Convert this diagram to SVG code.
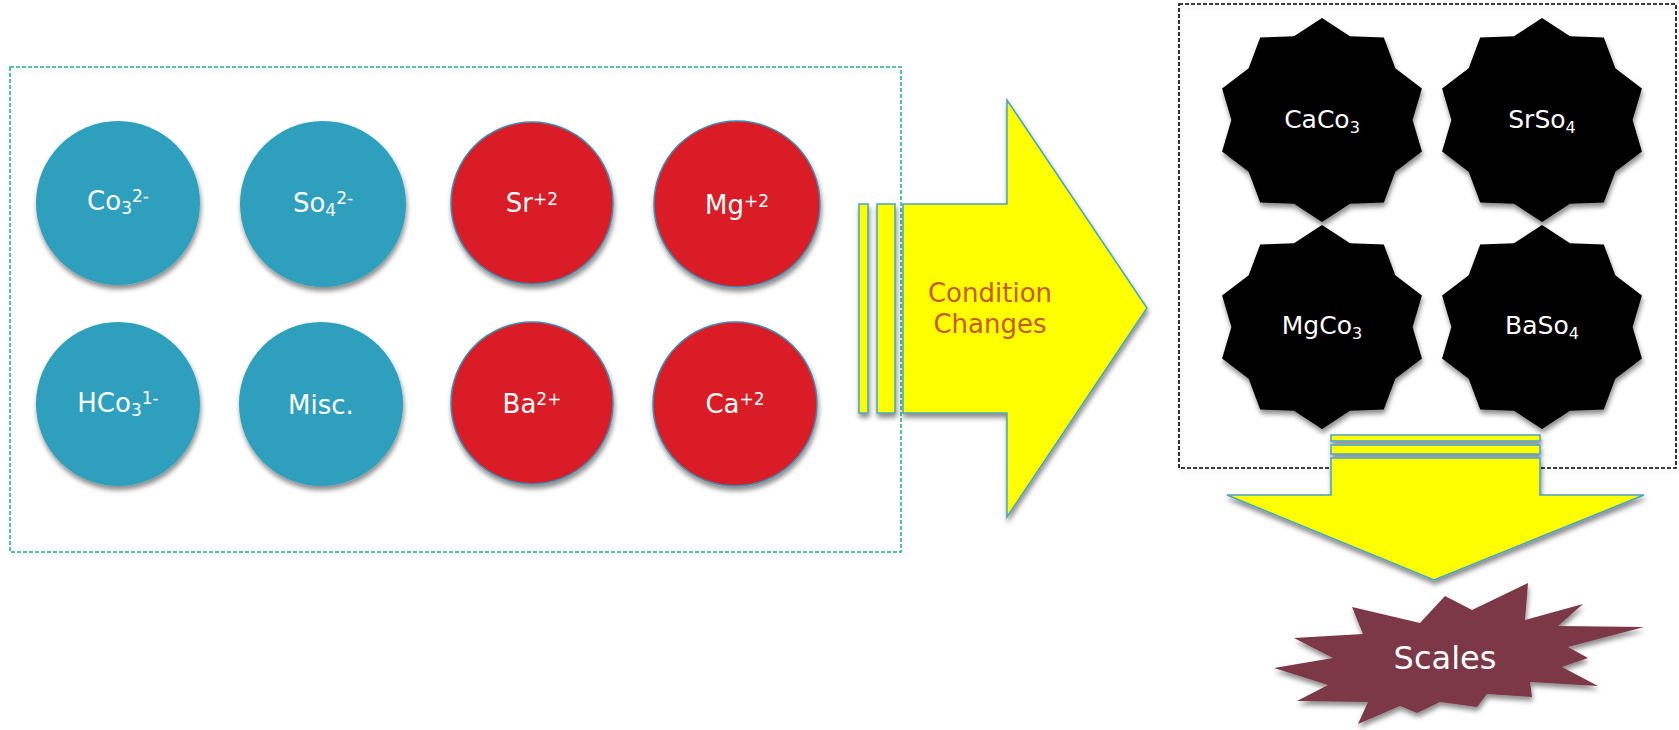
<svg xmlns="http://www.w3.org/2000/svg" xmlns:xlink="http://www.w3.org/1999/xlink" width="1679" height="730" viewBox="0 0 1679 730">
<style>
.t{font-family:"DejaVu Sans","Liberation Sans",sans-serif;fill:#ffffff;text-anchor:middle;font-size:26px}
.s{font-size:17px}
.st{font-size:25px}
.ss{font-size:16px}
.blue{fill:#2DA0BD}
.red{fill:#D91F27;stroke:#3E8DB0;stroke-width:1.5}
.yel{fill:#FFFF00;stroke:#4AA3C2;stroke-width:1.5}
.star{fill:#000000}
</style>
<defs>
<filter id="sh" x="-20%" y="-20%" width="140%" height="150%">
<feDropShadow dx="1" dy="4" stdDeviation="2.5" flood-color="#000" flood-opacity="0.45"/>
</filter>
<filter id="bsh" x="-5%" y="-5%" width="110%" height="110%">
<feDropShadow dx="1" dy="3" stdDeviation="2" flood-color="#000" flood-opacity="0.15"/>
</filter>
<polygon id="star10" points="0,-102 28,-83.7 61.8,-82.5 73.3,-51.7 99.9,-31.5 90.6,0 99.9,31.5 73.3,51.7 61.8,82.5 28,83.7 0,102 -28,83.7 -61.8,82.5 -73.3,51.7 -99.9,31.5 -90.6,0 -99.9,-31.5 -73.3,-51.7 -61.8,-82.5 -28,-83.7"/>
</defs>
<rect width="1679" height="730" fill="#ffffff"/>

<g id="ions-box" filter="url(#bsh)">
<rect x="10" y="67" width="891" height="485" fill="none" stroke="#22B07D" stroke-width="1.5" stroke-dasharray="4,2"/>
</g>
<g id="scale-box" filter="url(#bsh)">
<rect x="1179" y="4" width="497" height="464" fill="none" stroke="#000" stroke-width="1.6" stroke-dasharray="4,2"/>
</g>

<g id="co3" filter="url(#sh)"><circle class="blue" cx="118" cy="203" r="82"/></g>
<text class="t" x="118" y="210">Co<tspan class="s" dy="4">3</tspan><tspan class="s" dy="-12">2-</tspan></text>
<g id="so4" filter="url(#sh)"><circle class="blue" cx="323" cy="204" r="83"/></g>
<text class="t" x="323" y="212">So<tspan class="s" dy="4">4</tspan><tspan class="s" dy="-12">2-</tspan></text>
<g id="hco3" filter="url(#sh)"><circle class="blue" cx="118" cy="404" r="82"/></g>
<text class="t" x="118" y="412">HCo<tspan class="s" dy="4">3</tspan><tspan class="s" dy="-12">1-</tspan></text>
<g id="misc" filter="url(#sh)"><circle class="blue" cx="321" cy="404" r="82"/></g>
<text class="t" x="321" y="414">Misc.</text>

<g id="sr" filter="url(#sh)"><circle class="red" cx="532" cy="203" r="81"/></g>
<text class="t" x="532" y="212">Sr<tspan class="s" dy="-7">+2</tspan></text>
<g id="mg" filter="url(#sh)"><circle class="red" cx="737" cy="204" r="83"/></g>
<text class="t" x="737" y="214">Mg<tspan class="s" dy="-7">+2</tspan></text>
<g id="ba" filter="url(#sh)"><circle class="red" cx="532" cy="403" r="81"/></g>
<text class="t" x="532" y="413">Ba<tspan class="s" dy="-8">2+</tspan></text>
<g id="ca" filter="url(#sh)"><circle class="red" cx="735" cy="404" r="82"/></g>
<text class="t" x="735" y="413">Ca<tspan class="s" dy="-8">+2</tspan></text>

<g id="condition-arrow" filter="url(#sh)">
<rect class="yel" x="859" y="204" width="9" height="209"/>
<rect class="yel" x="877" y="204" width="18" height="209"/>
<polygon class="yel" points="903,204 1007,204 1007,100 1147,308 1007,517 1007,413 903,413"/>
</g>
<text class="t" x="990" y="302" style="fill:#C55A11">Condition</text>
<text class="t" x="990" y="333" style="fill:#C55A11">Changes</text>

<g id="caco3" filter="url(#sh)"><use xlink:href="#star10" class="star" x="1322" y="120"/></g>
<text class="t st" x="1322" y="128">CaCo<tspan class="ss" dy="5">3</tspan></text>
<g id="srso4" filter="url(#sh)"><use xlink:href="#star10" class="star" x="1542" y="120"/></g>
<text class="t st" x="1542" y="128">SrSo<tspan class="ss" dy="5">4</tspan></text>
<g id="mgco3" filter="url(#sh)"><use xlink:href="#star10" class="star" x="1322" y="327"/></g>
<text class="t st" x="1322" y="334">MgCo<tspan class="ss" dy="5">3</tspan></text>
<g id="baso4" filter="url(#sh)"><use xlink:href="#star10" class="star" x="1542" y="327"/></g>
<text class="t st" x="1542" y="334">BaSo<tspan class="ss" dy="5">4</tspan></text>

<g id="down-arrow" filter="url(#sh)">
<rect class="yel" x="1331" y="435" width="209" height="6"/>
<rect class="yel" x="1331" y="445" width="209" height="9"/>
<polygon class="yel" points="1331,458 1540,458 1540,495 1644,495 1434,580 1227,495 1331,495"/>
</g>

<g id="scales" filter="url(#sh)">
<polygon fill="#7B3947" points="1274,668 1333,658 1294,638 1363,634 1352,607 1420,623 1445,596 1472,610 1528,583 1525,620 1583,604 1558,626 1644,627 1568,647 1588,658 1562,667 1598,686 1530,682 1532,697 1487,694 1477,707 1440,702 1417,713 1400,706 1358,724 1368,702 1297,701 1328,685"/>
</g>
<text class="t" x="1445" y="669" style="font-size:32px">Scales</text>
</svg>
